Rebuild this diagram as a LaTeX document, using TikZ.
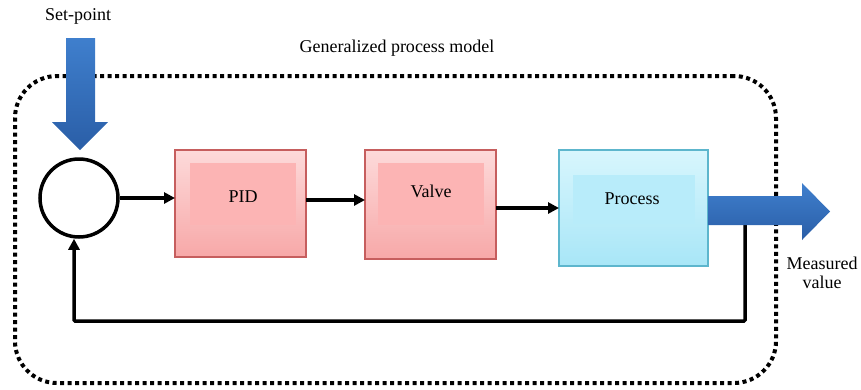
\documentclass[tikz,border=0pt]{standalone}
\usepackage{fontspec}
\setmainfont{Liberation Serif}
\usepackage{xcolor}
\usepackage{tikz}
\usetikzlibrary{arrows.meta, positioning}

\definecolor{pidtop}{HTML}{FDDADA}
\definecolor{pidbot}{HTML}{F7A8A8}
\definecolor{pidin}{HTML}{FCB4B4}
\definecolor{pidline}{HTML}{C65E5E}
\definecolor{proctop}{HTML}{D8F6FD}
\definecolor{procbot}{HTML}{A8E6F7}
\definecolor{procin}{HTML}{B8ECFA}
\definecolor{procline}{HTML}{5DB6CD}
\definecolor{bluetop}{HTML}{3F7FCD}
\definecolor{bluebot}{HTML}{2A5EA7}

\begin{document}
\begin{tikzpicture}[
  x=1pt, y=-1pt,
  every node/.style={font=\fontsize{18}{21}\selectfont},
  block/.style={rectangle, draw=pidline, line width=1.2pt, inner sep=0pt, outer sep=0pt,
    top color=pidtop, bottom color=pidbot},
  proc/.style={block, draw=procline, top color=proctop, bottom color=procbot},
  flow/.style={line width=3.5pt, -{Triangle[length=11pt,width=11pt]}},
  bigarrow/.style={top color=bluetop, bottom color=bluebot, draw=none},
  frame/.style={rectangle, draw, line width=4pt, dash pattern=on 4pt off 3.5pt,
    rounded corners=42pt, inner sep=0pt, outer sep=0pt}
]
\useasboundingbox (0,0) rectangle (861,389);

% Generalized model frame
\node[frame, minimum width=761pt, minimum height=307pt] (model) at (395.5,229.5) {};
\node[anchor=base] (title) at (397,52) {Generalized process model};

% Blocks
\node[circle, draw, line width=3.5pt, fill=white, minimum size=78pt, inner sep=0pt] (sum) at (79,198) {};
\node[block, minimum width=131pt, minimum height=107pt] (pid) at (240.5,203.5) {};
\fill[pidin] (190,163) rectangle (296,225);
\node (pidtxt) at (243,197) {PID};
\node[block, minimum width=131pt, minimum height=109pt] (valve) at (430.5,204.5) {};
\fill[pidin] (378,163) rectangle (484,225);
\node (valvetxt) at (431,191) {Valve};
\node[proc, minimum width=149pt, minimum height=116pt] (process) at (633.5,208) {};
\fill[procin] (573,175) rectangle (695,224);
\node (proctxt) at (632,199) {Process};

% Connectors
\draw[flow] (sum.east) -- (sum.east -| pid.west);
\draw[flow] ([yshift=3.5pt]pid.east) -- ([yshift=3.5pt]pid.east -| valve.west);
\draw[flow] ([yshift=-3.5pt]valve.east) -- ([yshift=-3.5pt]valve.east -| process.west);

% Feedback
\coordinate (tap) at (745,224);
\draw[flow, rounded corners=1pt] (tap) -- (745,321) -| ([xshift=-5pt]sum.south);

% Set-point and output arrows
\path[bigarrow] (66,38) -- (95,38) -- (95,122) -- (108,122) -- (80,150) -- (52,122) -- (66,122) -- cycle;
\node (setpoint) at (78,16) {Set-point};
\path[bigarrow] (process.east |- 0,196) -- (802,196) -- (802,183) -- (830,211.5)
  -- (802,240) -- (802,225) -- (process.east |- 0,225) -- cycle;
\node[align=center, font=\fontsize{18}{19}\selectfont] (measured) at (822,273) {Measured\\value};

\end{tikzpicture}
\end{document}
